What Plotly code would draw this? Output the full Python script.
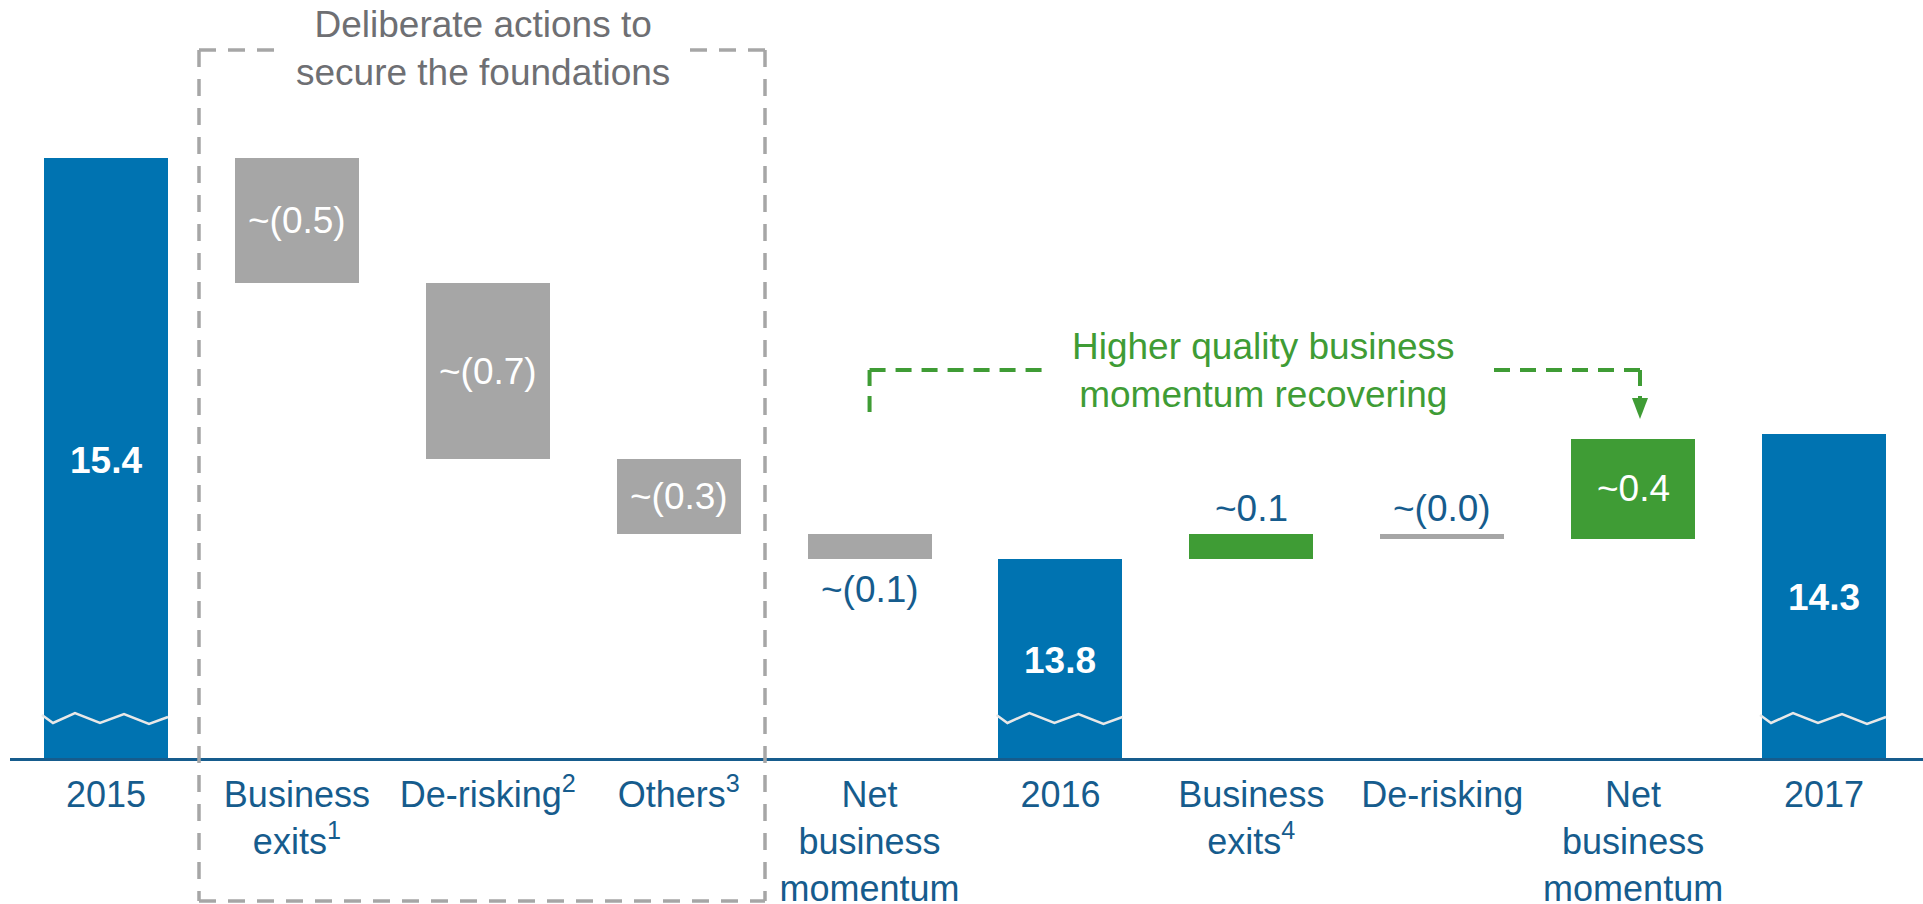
import plotly.graph_objects as go

# ---------------- data ----------------
categories = ["2015", "Business<br>exits<sup>1</sup>", "De-risking<sup>2</sup>", "Others<sup>3</sup>",
              "Net<br>business<br>momentum", "2016", "Business<br>exits<sup>4</sup>", "De-risking",
              "Net<br>business<br>momentum", "2017"]
kinds = ["total", "delta", "delta", "delta", "delta", "total", "delta", "delta", "delta", "total"]
values = [15.4, -0.5, -0.7, -0.3, -0.1, 13.8, 0.1, -0.02, 0.4, 14.3]
labels = ["15.4", "~(0.5)", "~(0.7)", "~(0.3)", "~(0.1)", "13.8", "~0.1", "~(0.0)", "~0.4", "14.3"]
label_pos = ["inside", "inside", "inside", "inside", "below", "inside", "above", "above", "inside", "inside"]
group_title = "Deliberate actions to<br>secure the foundations"
momentum_title = "Higher quality business<br>momentum recovering"

# ---------------- styles ----------------
BLUE = "#0073B1"
GREY = "#A6A6A6"
GREEN = "#3F9C35"
DARK = "#165C8D"
TITLE_GREY = "#6E6F73"
FONT = "Arial, Liberation Sans, sans-serif"
FS = 37
TICK_FS = 36

W, H = 1923, 904
ML, MB = 10, 146
PLOT_H = H - MB
Y0 = 13.006
PX_PER_UNIT = 250.6
Y1 = Y0 + PLOT_H / PX_PER_UNIT
X_UNIT = 190.89
XMIN = -(106 - ML) / X_UNIT
XMAX = XMIN + (W - ML) / X_UNIT


def py(pix):
    """pixel row (from top) -> paper y"""
    return (PLOT_H - pix) / PLOT_H


xs = list(range(len(categories)))
bases, heights, colors = [], [], []
running = 0.0
for k, v in zip(kinds, values):
    if k == "total":
        bases.append(0.0)
        heights.append(v)
        colors.append(BLUE)
        running = v
    else:
        bases.append(running)
        heights.append(v)
        colors.append(GREEN if v > 0 else GREY)
        running += v

fig = go.Figure()
fig.add_trace(go.Bar(
    x=xs, y=heights, base=bases, width=0.65,
    marker=dict(color=colors, line=dict(width=0)),
    hoverinfo="skip", showlegend=False,
))

annotations = []
for i, (k, v, b, lab, pos) in enumerate(zip(kinds, heights, bases, labels, label_pos)):
    lo, hi = min(b, b + v), max(b, b + v)
    if k == "total":
        ymid = (Y0 + hi) / 2
        annotations.append(dict(x=i, y=ymid, yshift=-2, text=f"<b>{lab}</b>", showarrow=False,
                                font=dict(family=FONT, size=FS, color="white"),
                                xanchor="center", yanchor="middle"))
    elif pos == "inside":
        annotations.append(dict(x=i, y=(lo + hi) / 2, text=lab, showarrow=False,
                                font=dict(family=FONT, size=FS, color="white"),
                                xanchor="center", yanchor="middle"))
    elif pos == "below":
        annotations.append(dict(x=i, y=lo, yshift=-30, text=lab, showarrow=False,
                                font=dict(family=FONT, size=FS, color=DARK),
                                xanchor="center", yanchor="middle"))
    else:
        annotations.append(dict(x=i, y=hi, yshift=25, text=lab, showarrow=False,
                                font=dict(family=FONT, size=FS, color=DARK),
                                xanchor="center", yanchor="middle"))

# group titles
annotations.append(dict(x=(483 - 106) / X_UNIT, y=py(48), xref="x", yref="paper",
                        text=group_title, showarrow=False,
                        font=dict(family=FONT, size=FS, color=TITLE_GREY),
                        xanchor="center", yanchor="middle"))
annotations.append(dict(x=(1263 - 106) / X_UNIT, y=py(370), xref="x", yref="paper",
                        text=momentum_title, showarrow=False,
                        font=dict(family=FONT, size=FS, color=GREEN),
                        xanchor="center", yanchor="middle"))

shapes = []
# dashed grey box
gdash = dict(color=GREY, width=3.5, dash="17px,12px")
bx0, bx1 = (199 - 106) / X_UNIT, (765 - 106) / X_UNIT
btop, bbot = py(50), py(901)
shapes += [
    dict(type="line", xref="x", yref="paper", x0=bx0, x1=bx0, y0=btop, y1=bbot, line=gdash),
    dict(type="line", xref="x", yref="paper", x0=bx1, x1=bx1, y0=btop, y1=bbot, line=gdash),
    dict(type="line", xref="x", yref="paper", x0=bx0, x1=(275 - 106) / X_UNIT, y0=btop, y1=btop, line=gdash),
    dict(type="line", xref="x", yref="paper", x0=(690 - 106) / X_UNIT, x1=bx1, y0=btop, y1=btop, line=gdash),
    dict(type="line", xref="x", yref="paper", x0=bx0, x1=bx1, y0=bbot, y1=bbot, line=gdash),
]
# green bracket
gr = dict(color=GREEN, width=4, dash="16px,10px")
lx, rx = 4.0, (1640 - 106) / X_UNIT
ytop = py(370)
shapes += [
    dict(type="line", xref="x", yref="paper", x0=lx, x1=lx, y0=ytop, y1=py(418), line=gr),
    dict(type="line", xref="x", yref="paper", x0=lx, x1=(1050 - 106) / X_UNIT, y0=ytop, y1=ytop, line=gr),
    dict(type="line", xref="x", yref="paper", x0=(1494 - 106) / X_UNIT, x1=rx, y0=ytop, y1=ytop, line=gr),
    dict(type="line", xref="x", yref="paper", x0=rx, x1=rx, y0=ytop, y1=py(400), line=gr),
]
hw = 8 / X_UNIT
shapes.append(dict(type="path", xref="x", yref="paper",
                   path=f"M {rx - hw},{py(398)} L {rx + hw},{py(398)} L {rx},{py(419)} Z",
                   fillcolor=GREEN, line=dict(width=0)))

# zig-zag axis-break marks on the total bars
zz_dx = [-64, -53, -31, -6, 18, 43, 62]
zz_py = [715, 723, 713, 723, 714, 724, 717]
for i, k in enumerate(kinds):
    if k == "total":
        pts = [f"{i + dx / X_UNIT},{py(p)}" for dx, p in zip(zz_dx, zz_py)]
        shapes.append(dict(type="path", xref="x", yref="paper",
                           path="M " + " L ".join(pts),
                           line=dict(color="#E8E8E8", width=2.5)))

fig.update_layout(
    width=W, height=H,
    margin=dict(l=ML, r=0, t=0, b=MB, pad=0, autoexpand=False),
    paper_bgcolor="white", plot_bgcolor="white",
    bargap=0,
    annotations=annotations,
    shapes=shapes,
    xaxis=dict(range=[XMIN, XMAX], tickvals=xs, ticktext=categories, tickangle=0,
               showgrid=False, zeroline=False, ticks="", automargin=False,
               showline=True, linecolor=DARK, linewidth=3,
               tickfont=dict(family=FONT, size=TICK_FS, color=DARK),
               ticklabelstandoff=3, fixedrange=True),
    yaxis=dict(range=[Y0, Y1], visible=False, showgrid=False, zeroline=False,
               fixedrange=True, automargin=False),
)

fig.write_html("out.html", config={"displayModeBar": False},
               post_script="document.body.style.margin='0px';document.body.style.overflow='hidden';")
